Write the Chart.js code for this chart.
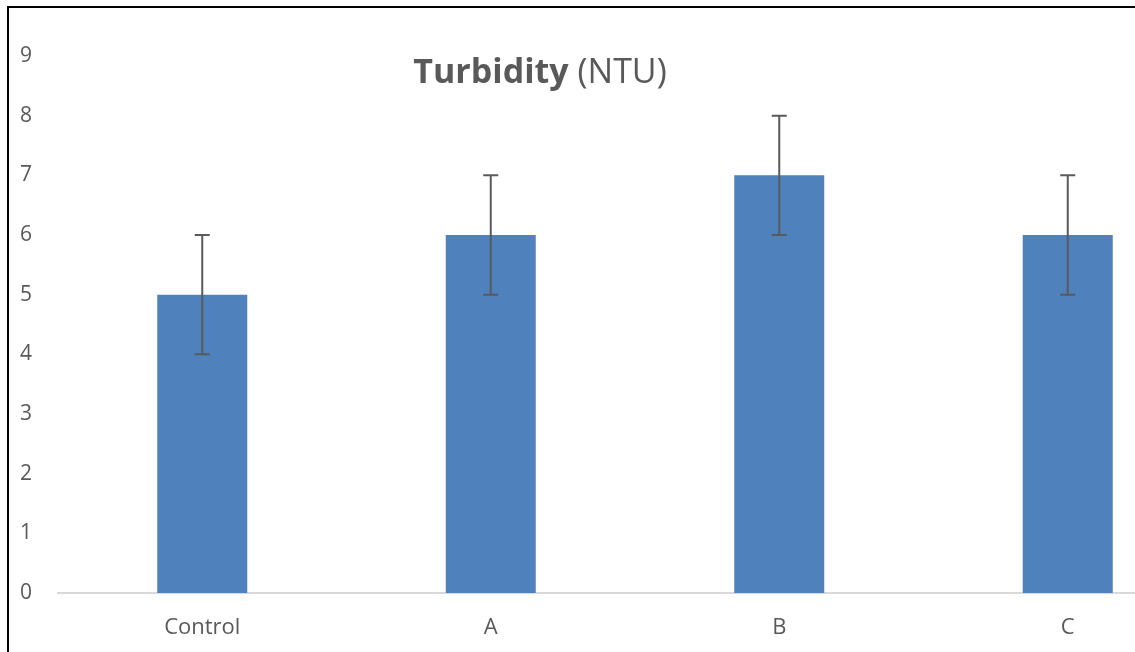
<!DOCTYPE html>
<html>
<head>
<meta charset="utf-8">
<script src="https://cdn.jsdelivr.net/npm/chart.js@4"></script>
<style>
  html, body { margin:0; padding:0; background:#fff; overflow:hidden; width:1135px; height:652px; }
  #chart { position:absolute; left:0; top:0; }
  #frame { position:absolute; left:7px; top:6px; width:2000px; height:1000px;
           border-top:2px solid #000; border-left:2px solid #000; pointer-events:none; }
</style>
</head>
<body>
<canvas id="chart" width="1240" height="652"></canvas>
<div id="frame"></div>
<script>
const categories = ['Control', 'A', 'B', 'C'];
const turbidity  = [5, 6, 7, 6];
const errors     = [1, 1, 1, 1];
const yTicks     = [0, 1, 2, 3, 4, 5, 6, 7, 8, 9];

const TEXT = '#595959';
const FONT = "'Open Sans', sans-serif";

// error bars drawn from the bar elements and the y scale
const errorBars = {
  id: 'errorBars',
  afterDatasetsDraw(chart) {
    const ctx = chart.ctx;
    const y = chart.scales.y;
    const meta = chart.getDatasetMeta(0);
    ctx.save();
    ctx.strokeStyle = '#5a5a5a';
    ctx.lineWidth = 2;
    meta.data.forEach((bar, i) => {
      const top = y.getPixelForValue(turbidity[i] + errors[i]);
      const bot = y.getPixelForValue(turbidity[i] - errors[i]);
      ctx.beginPath();
      ctx.moveTo(bar.x, top); ctx.lineTo(bar.x, bot);
      ctx.moveTo(bar.x - 7.5, top); ctx.lineTo(bar.x + 7.5, top);
      ctx.moveTo(bar.x - 7.5, bot); ctx.lineTo(bar.x + 7.5, bot);
      ctx.stroke();
    });
    ctx.restore();
  }
};

// title with bold and normal parts
const mixedTitle = {
  id: 'mixedTitle',
  afterDraw(chart) {
    const ctx = chart.ctx;
    const boldPart = 'Turbidity', normPart = ' (NTU)';
    ctx.save();
    ctx.fillStyle = TEXT;
    ctx.textBaseline = 'alphabetic';
    ctx.font = 'bold 34px ' + FONT;
    const w1 = ctx.measureText(boldPart).width;
    ctx.font = '34px ' + FONT;
    const w2 = ctx.measureText(normPart).width;
    const x0 = 540 - (w1 + w2) / 2;
    ctx.font = 'bold 34px ' + FONT;
    ctx.fillText(boldPart, x0, 83);
    ctx.font = '34px ' + FONT;
    ctx.fillText(normPart, x0 + w1, 83);
    ctx.restore();
  }
};

new Chart(document.getElementById('chart').getContext('2d'), {
  type: 'bar',
  data: {
    labels: categories,
    datasets: [{
      data: turbidity,
      backgroundColor: '#4f81bd',
      barPercentage: 0.312,
      categoryPercentage: 1
    }]
  },
  options: {
    responsive: false,
    animation: false,
    layout: { padding: { top: 56, right: 28, bottom: 0, left: 0 } },
    scales: {
      x: {
        grid: { display: false },
        border: { display: true, color: '#d9d9d9', width: 2 },
        ticks: { color: TEXT, font: { family: FONT, size: 22 }, padding: 14 },
        afterFit(s) { s.height = 59; }
      },
      y: {
        min: 0, max: 9,
        afterBuildTicks(s) { s.ticks = yTicks.map(v => ({ value: v })); },
        grid: { display: false },
        border: { display: false },
        ticks: { color: TEXT, font: { family: FONT, size: 21 }, padding: 18 },
        afterFit(s) { s.width = 58; }
      }
    },
    plugins: { legend: { display: false }, tooltip: { enabled: false }, title: { display: false } }
  },
  plugins: [errorBars, mixedTitle]
});
</script>
</body>
</html>
